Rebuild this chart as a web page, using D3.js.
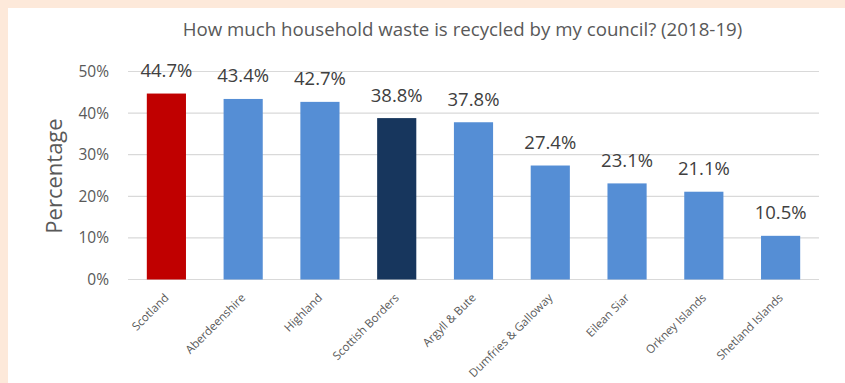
<!DOCTYPE html>
<html>
<head>
<meta charset="utf-8">
<script src="https://cdn.jsdelivr.net/npm/d3@7"></script>
<style>
	html, body { margin: 0; padding: 0; background: #fff; }
	svg { display: block; font-family: "Open Sans", sans-serif; }
</style>
</head>
<body>
<div id="chart"></div>
<script>
// data
var councils = ["Scotland", "Aberdeenshire", "Highland", "Scottish Borders", "Argyll & Bute",
	"Dumfries & Galloway", "Eilean Siar", "Orkney Islands", "Shetland Islands"];
var recycled = [44.7, 43.4, 42.7, 38.8, 37.8, 27.4, 23.1, 21.1, 10.5];
var yTicks = [0, 10, 20, 30, 40, 50];

var width = 845,
	height = 383;

var plotLeft = 128, plotRight = 819,
	plotTop = 71.5, plotBottom = 279.5;

var svg = d3.select("#chart")
	.append("svg")
		.attr("width", width)
		.attr("height", height);

// peach frame on the left and top edge
svg.append("rect").attr("x", 0).attr("y", 0).attr("width", width).attr("height", 8).attr("fill", "#fde9da");
svg.append("rect").attr("x", 0).attr("y", 0).attr("width", 8).attr("height", height).attr("fill", "#fde9da");

var x = d3.scaleBand()
	.domain(councils)
	.range([plotLeft, plotRight])
	.paddingInner(0.49)
	.paddingOuter(0.245);

var y = d3.scaleLinear()
	.domain([0, 50])
	.range([plotBottom, plotTop]);

function barColour(name) {
	if (name === "Scotland") return "#c00000";
	if (name === "Scottish Borders") return "#17365d";
	return "#558ed5";
}

// gridlines
svg.append("g")
	.selectAll("line")
	.data(yTicks)
	.enter().append("line")
		.attr("x1", plotLeft)
		.attr("x2", plotRight)
		.attr("y1", function(d) { return y(d); })
		.attr("y2", function(d) { return y(d); })
		.attr("stroke", "#d9d9d9")
		.attr("stroke-width", 1.2);

// y axis labels
var yAxis = svg.append("g")
	.attr("transform", "translate(" + (plotLeft - 19) + ",0)")
	.call(d3.axisLeft(y).tickValues(yTicks).tickSize(0).tickPadding(0).tickFormat(function(d) { return d + "%"; }));
yAxis.select(".domain").remove();
yAxis.selectAll("text")
	.attr("font-family", "Open Sans, sans-serif")
	.attr("font-size", 15.5)
	.attr("fill", "#595959");

// bars
svg.append("g")
	.selectAll("rect")
	.data(councils)
	.enter().append("rect")
		.attr("x", function(d) { return x(d); })
		.attr("width", x.bandwidth())
		.attr("y", function(d, i) { return y(recycled[i]); })
		.attr("height", function(d, i) { return y(0) - y(recycled[i]); })
		.attr("fill", barColour);

// value labels
svg.append("g")
	.selectAll("text")
	.data(councils)
	.enter().append("text")
		.attr("x", function(d) { return x(d) + x.bandwidth() / 2; })
		.attr("y", function(d, i) { return y(recycled[i]) - 16.5; })
		.attr("text-anchor", "middle")
		.attr("font-size", 18.5)
		.attr("fill", "#404040")
		.text(function(d, i) { return recycled[i].toFixed(1) + "%"; });

// category labels
var xAxis = svg.append("g")
	.attr("transform", "translate(0," + plotBottom + ")")
	.call(d3.axisBottom(x).tickSize(0).tickPadding(0));
xAxis.select(".domain").remove();
xAxis.selectAll("text")
	.attr("font-family", "Open Sans, sans-serif")
	.attr("font-size", 11.5)
	.attr("fill", "#595959")
	.attr("dy", null)
	.attr("y", null)
	.attr("text-anchor", "end")
	.attr("transform", "translate(3,19) rotate(-45)");

// titles
svg.append("text")
	.attr("x", 462.5)
	.attr("y", 35.7)
	.attr("text-anchor", "middle")
	.attr("font-size", 18.7)
	.attr("fill", "#595959")
	.text("How much household waste is recycled by my council? (2018-19)");

svg.append("text")
	.attr("transform", "translate(62,176) rotate(-90)")
	.attr("text-anchor", "middle")
	.attr("font-size", 22)
	.attr("fill", "#595959")
	.text("Percentage");
</script>
</body>
</html>
